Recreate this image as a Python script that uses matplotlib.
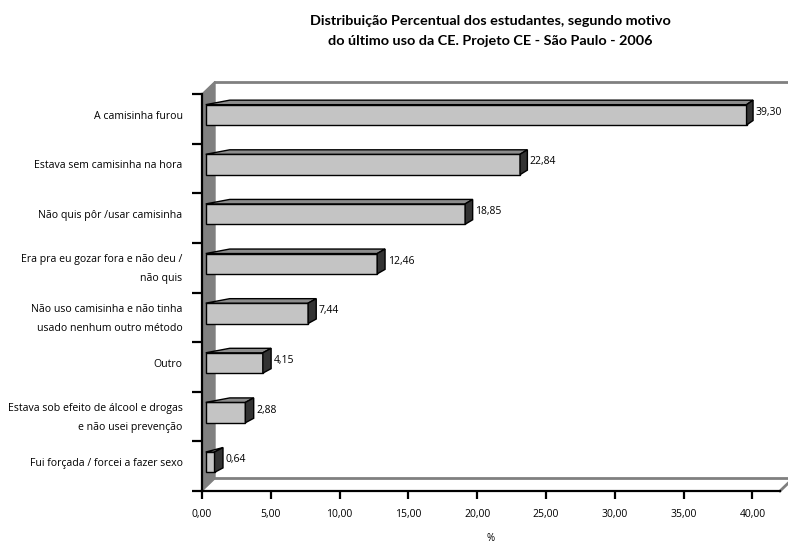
import numpy as np
import matplotlib
matplotlib.use('Agg')
import matplotlib.pyplot as plt
from matplotlib.patches import Polygon

categories = [
    'A camisinha furou',
    'Estava sem camisinha na hora',
    'Não quis pôr /usar camisinha',
    'Era pra eu gozar fora e não deu /\nnão quis',
    'Não uso camisinha e não tinha\nusado nenhum outro método',
    'Outro',
    'Estava sob efeito de álcool e drogas\ne não usei prevenção',
    'Fui forçada / forcei a fazer sexo',
]
values = [39.30, 22.84, 18.85, 12.46, 7.44, 4.15, 2.88, 0.64]
xticks = [0, 5, 10, 15, 20, 25, 30, 35, 40]

title = ('Distribuição Percentual dos estudantes, segundo motivo\n'
         'do último uso da CE. Projeto CE - São Paulo - 2006')

W, H = 788, 544
plt.rcParams['font.family'] = ['Open Sans', 'DejaVu Sans']

fig = plt.figure(figsize=(W / 100, H / 100), dpi=100)
ax = fig.add_axes([202 / W, (H - 491) / H, (780 - 202) / W, (491 - 94) / H])
ax.set_xlim(0, 42)
ax.set_ylim(0, 8)
ax.patch.set_alpha(0)

n = len(categories)
ypos = np.array([n - i - 0.5 + 0.08 for i in range(n)])

front = ax.barh(ypos, values, height=0.41, left=0.27, color='#c4c4c4',
                edgecolor='black', linewidth=1.0, zorder=3)

inv = ax.transData.inverted()
depth_dy = 4.5
for rect in front:
    x0, y0 = rect.get_x(), rect.get_y()
    x1, y1 = x0 + rect.get_width(), y0 + rect.get_height()
    (xl, yb), (xr, yt) = ax.transData.transform([(x0, y0), (x1, y1)])
    dxs = 8.5 - 2.0 * (xr - xl) / 541
    top = [(xl, yt), (xr, yt), (xr + dxs, yt + depth_dy),
           (min(xl + 24, xr + dxs), yt + depth_dy)]
    side = [(xr, yb), (xr, yt), (xr + dxs, yt + depth_dy), (xr + dxs, yb + depth_dy)]
    ax.add_patch(Polygon(inv.transform(top), closed=True, facecolor='#8c8c8c',
                         edgecolor='black', linewidth=1.0, zorder=4, clip_on=False))
    ax.add_patch(Polygon(inv.transform(side), closed=True, facecolor='#333333',
                         edgecolor='black', linewidth=1.0, zorder=4, clip_on=False))
    lx, ly = inv.transform((xr + dxs + 2.5, (yb + yt) / 2 + 2.5))
    ax.text(lx, ly, f'{rect.get_width():.2f}'.replace('.', ','),
            fontsize=7.5, va='center', ha='left', zorder=5)

# 3D frame: side wall, back top edge and floor edge
(ax0, ay0), (ax1, ay1) = ax.transData.transform([(0, 0), (42, 8)])
ddx, ddy = 13, 12.5
wall = [(ax0, ay0), (ax0, ay1), (ax0 + ddx, ay1 + ddy), (ax0 + ddx, ay0 + ddy)]
ax.add_patch(Polygon(inv.transform(wall), closed=True, facecolor='#808080',
                     edgecolor='#808080', linewidth=1, zorder=1, clip_on=False))
for pts in ([(ax0 + ddx, ay1 + ddy), (ax1 + ddx, ay1 + ddy)],
            [(ax0 + ddx, ay0 + ddy), (ax1 + ddx, ay0 + ddy), (ax1, ay0)]):
    d = inv.transform(pts)
    ax.plot(d[:, 0], d[:, 1], color='#808080', lw=2, zorder=2, clip_on=False)

for s in ['top', 'right']:
    ax.spines[s].set_visible(False)
for s in ['left', 'bottom']:
    ax.spines[s].set_linewidth(1.6)
    ax.spines[s].set_zorder(6)

ax.set_yticks(ypos)
ax.set_yticklabels(categories, fontsize=7.6)
for t in ax.get_yticklabels():
    t.set_linespacing(2.0)
ax.set_yticks(np.arange(0, n + 1), minor=True)
ax.tick_params(axis='y', which='major', length=0, pad=14)
ax.tick_params(axis='y', which='minor', length=7, width=1.6, direction='out')

ax.set_xticks(xticks)
ax.set_xticklabels([f'{v:.2f}'.replace('.', ',') for v in xticks], fontsize=7.5)
ax.tick_params(axis='x', length=6, width=1.6, direction='out', pad=7)
ax.set_xlabel('%', fontsize=7, labelpad=9)

fig.text(490 / W, 1 - 31 / H, title, ha='center', va='center', fontsize=10.4,
         fontweight='bold', linespacing=1.85, family=['Lato', 'DejaVu Sans'])

fig.savefig('out.png', dpi=100)
